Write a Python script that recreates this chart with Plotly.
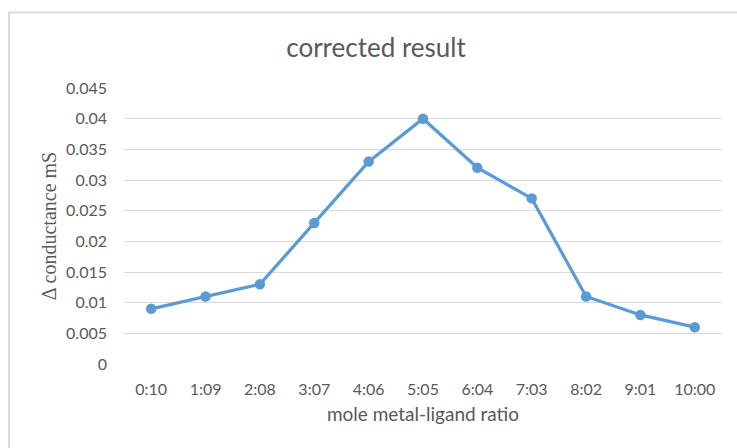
import plotly.graph_objects as go

categories = ["0:10", "1:09", "2:08", "3:07", "4:06", "5:05", "6:04", "7:03", "8:02", "9:01", "10:00"]
values = [0.009, 0.011, 0.013, 0.023, 0.033, 0.040, 0.032, 0.027, 0.011, 0.008, 0.006]
y_ticks = [0, 0.005, 0.01, 0.015, 0.02, 0.025, 0.03, 0.035, 0.04, 0.045]
y_ticktext = ["0", "0.005", "0.01", "0.015", "0.02", "0.025", "0.03", "0.035", "0.04", "0.045"]

L, R, T, B = 124, 15, 88, 84
W, H = 737, 448
pw, ph = W - L - R, H - T - B

fig = go.Figure()
fig.add_trace(go.Scatter(
    x=list(range(len(categories))), y=values, mode="lines+markers",
    line=dict(color="#5B9BD5", width=3.25),
    marker=dict(color="#5B9BD5", size=10.5),
    showlegend=False,
))

font = "Lato, 'Open Sans', sans-serif"
fig.update_layout(
    width=W, height=H,
    margin=dict(l=L, r=R, t=T, b=B),
    paper_bgcolor="white", plot_bgcolor="white",
    title=dict(text="corrected result", x=376 / W, xanchor="center",
               y=1 - 48 / H, yanchor="middle",
               font=dict(family=font, size=26, color="#595959")),
    xaxis=dict(
        tickmode="array", tickvals=list(range(len(categories))), ticktext=categories,
        range=[-0.5, len(categories) - 0.5], showgrid=False, zeroline=False,
        showline=False, ticks="", ticklabelstandoff=14,
        tickfont=dict(family=font, size=16, color="#595959"),
        title=dict(text="mole metal-ligand ratio", font=dict(family=font, size=19, color="#595959"), standoff=10),
    ),
    yaxis=dict(
        tickmode="array", tickvals=y_ticks, ticktext=y_ticktext,
        range=[0, 0.045], showgrid=True, gridcolor="#D9D9D9", gridwidth=1,
        zeroline=False, showline=False, ticks="", ticklabelstandoff=16,
        tickfont=dict(family=font, size=16, color="#595959"),
        title=dict(text="Δ conductance mS", font=dict(family="'Liberation Serif', serif", size=20, color="#595959"), standoff=4),
    ),
)

fig.add_shape(type="rect", xref="paper", yref="paper",
              x0=(9 - L) / pw, x1=(W + 5 - L) / pw,
              y0=(H - B - (H + 5)) / ph, y1=1 + (T - 12.5) / ph,
              line=dict(color="#D9D9D9", width=2), layer="below")

fig.write_html("out.html", config={"displayModeBar": False},
               post_script="document.body.style.margin='0px';")
